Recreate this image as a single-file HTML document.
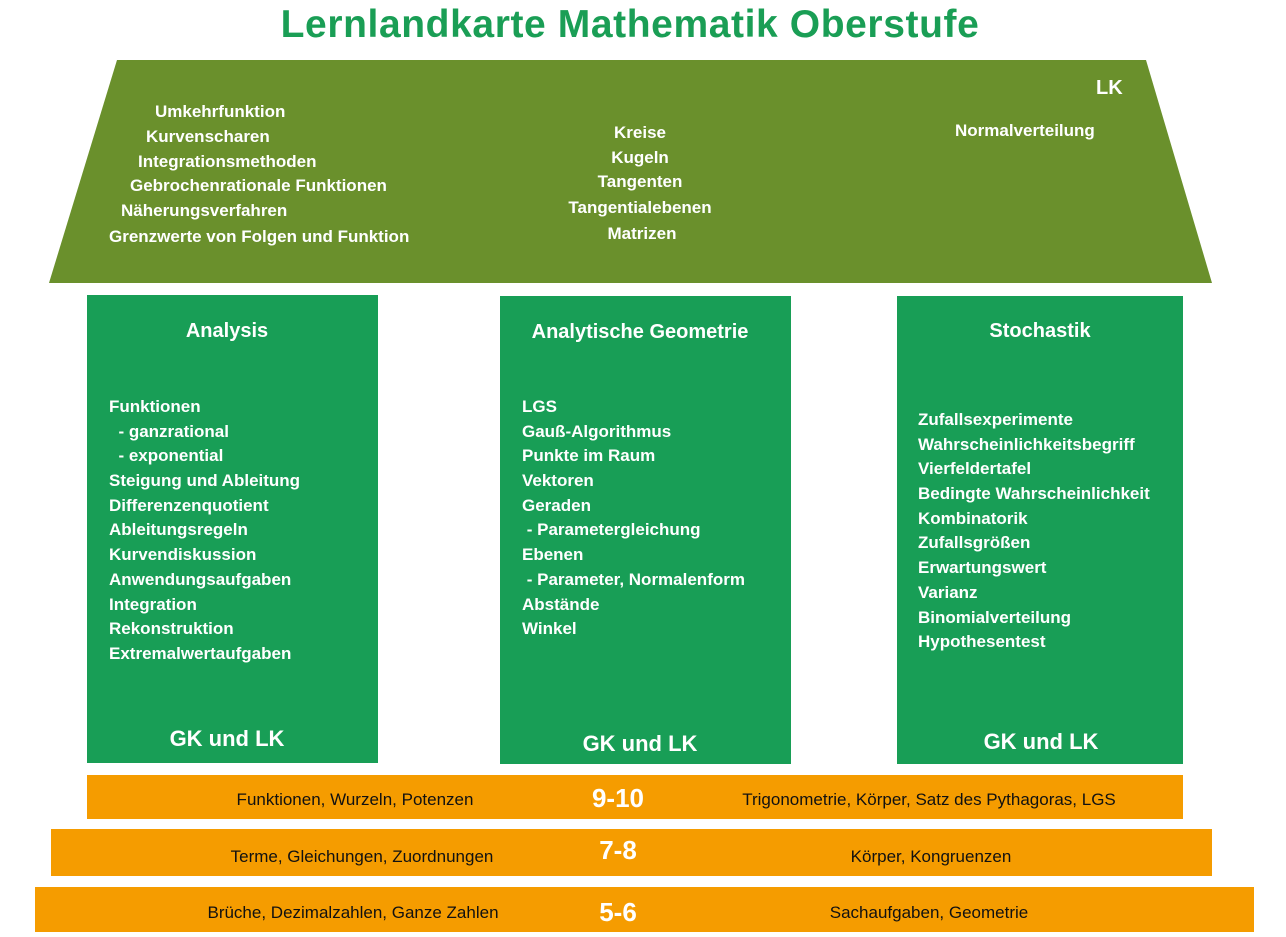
<!DOCTYPE html>
<html><head><meta charset="utf-8">
<style>
html,body{margin:0;padding:0;background:#fff;width:1286px;height:937px;overflow:hidden}
body{position:relative;font-family:"Liberation Sans",sans-serif}
.a{position:absolute;white-space:nowrap;line-height:20px}
.w{color:#fff;font-weight:bold;font-size:17px;margin-top:2px}
.c{transform:translateX(-50%)}
.box{position:absolute;background:#189e56}
.bar{position:absolute;background:#f59c00}
.k{color:#111;font-size:17px;margin-top:2px}
.n{color:#fff;font-weight:bold;font-size:26px;line-height:30px;margin-top:1px}
.list{position:absolute;color:#fff;font-weight:bold;font-size:17px;white-space:nowrap;margin-top:2px}
.list div{height:24.7px;line-height:20px}
.h{color:#fff;font-weight:bold;font-size:20px;margin-top:2px}
.g{color:#fff;font-weight:bold;font-size:22px;line-height:26px;margin-top:1px}
</style></head><body>
<div class="a c" style="left:630px;top:3px;font-size:39px;line-height:44px;font-weight:bold;color:#1a9e55;letter-spacing:0.6px">Lernlandkarte Mathematik Oberstufe</div>

<svg style="position:absolute;left:0;top:0" width="1286" height="300">
<polygon points="117,60 1146,60 1212,283 49,283" fill="#6a902c"/>
</svg>
<div class="a w" style="left:1096px;top:75px;font-size:20px;line-height:22px">LK</div>
<div class="a w" style="left:155px;top:100px">Umkehrfunktion</div>
<div class="a w" style="left:146px;top:125px">Kurvenscharen</div>
<div class="a w" style="left:138px;top:150px">Integrationsmethoden</div>
<div class="a w" style="left:130px;top:174px">Gebrochenrationale Funktionen</div>
<div class="a w" style="left:121px;top:199px">Näherungsverfahren</div>
<div class="a w" style="left:109px;top:225px">Grenzwerte von Folgen und Funktion</div>
<div class="a w c" style="left:640px;top:121px">Kreise</div>
<div class="a w c" style="left:640px;top:146px">Kugeln</div>
<div class="a w c" style="left:640px;top:170px">Tangenten</div>
<div class="a w c" style="left:640px;top:196px">Tangentialebenen</div>
<div class="a w c" style="left:642px;top:222px">Matrizen</div>
<div class="a w" style="left:955px;top:119px">Normalverteilung</div>

<div class="box" style="left:87px;top:295px;width:291px;height:468px"></div>
<div class="box" style="left:500px;top:296px;width:291px;height:468px"></div>
<div class="box" style="left:897px;top:296px;width:286px;height:468px"></div>

<div class="a h c" style="left:227px;top:319px">Analysis</div>
<div class="a h c" style="left:640px;top:320px">Analytische Geometrie</div>
<div class="a h c" style="left:1040px;top:319px">Stochastik</div>

<div class="list" style="left:109px;top:395px">
<div>Funktionen</div><div>&nbsp; - ganzrational</div><div>&nbsp; - exponential</div><div>Steigung und Ableitung</div><div>Differenzenquotient</div><div>Ableitungsregeln</div><div>Kurvendiskussion</div><div>Anwendungsaufgaben</div><div>Integration</div><div>Rekonstruktion</div><div>Extremalwertaufgaben</div>
</div>
<div class="list" style="left:522px;top:395px">
<div>LGS</div><div>Gauß-Algorithmus</div><div>Punkte im Raum</div><div>Vektoren</div><div>Geraden</div><div>&nbsp;- Parametergleichung</div><div>Ebenen</div><div>&nbsp;- Parameter, Normalenform</div><div>Abstände</div><div>Winkel</div>
</div>
<div class="list" style="left:918px;top:408px">
<div>Zufallsexperimente</div><div>Wahrscheinlichkeitsbegriff</div><div>Vierfeldertafel</div><div>Bedingte Wahrscheinlichkeit</div><div>Kombinatorik</div><div>Zufallsgrößen</div><div>Erwartungswert</div><div>Varianz</div><div>Binomialverteilung</div><div>Hypothesentest</div>
</div>

<div class="a g c" style="left:227px;top:725px">GK und LK</div>
<div class="a g c" style="left:640px;top:730px">GK und LK</div>
<div class="a g c" style="left:1041px;top:728px">GK und LK</div>

<div class="bar" style="left:87px;top:775px;width:1096px;height:44px"></div>
<div class="bar" style="left:51px;top:829px;width:1161px;height:47px"></div>
<div class="bar" style="left:35px;top:887px;width:1219px;height:45px"></div>

<div class="a k c" style="left:355px;top:788px">Funktionen, Wurzeln, Potenzen</div>
<div class="a n c" style="left:618px;top:782px">9-10</div>
<div class="a k c" style="left:929px;top:788px">Trigonometrie, Körper, Satz des Pythagoras, LGS</div>
<div class="a k c" style="left:362px;top:845px">Terme, Gleichungen, Zuordnungen</div>
<div class="a n c" style="left:618px;top:834px">7-8</div>
<div class="a k c" style="left:931px;top:845px">Körper, Kongruenzen</div>
<div class="a k c" style="left:353px;top:901px">Brüche, Dezimalzahlen, Ganze Zahlen</div>
<div class="a n c" style="left:618px;top:896px">5-6</div>
<div class="a k c" style="left:929px;top:901px">Sachaufgaben, Geometrie</div>
</body></html>
